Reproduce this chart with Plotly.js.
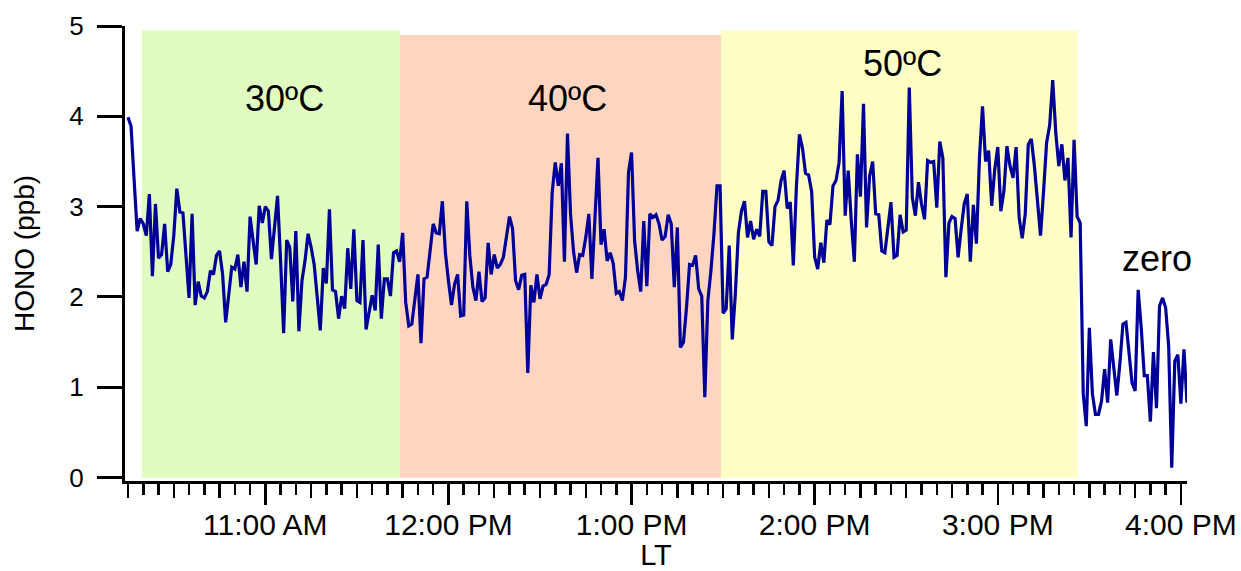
<!DOCTYPE html>
<html>
<head>
<meta charset="utf-8">
<script src="https://cdn.plot.ly/plotly-3.0.1.min.js"></script>
<style>html,body{margin:0;padding:0;background:#fff;}#chart{width:1241px;height:571px;}</style>
</head>
<body>
<div id="chart"></div>
<script>
// ---- DATA (HONO, ppb), one reading per minute starting at 10:15 LT ----
var day = '2024-06-01';
var startTime = '10:15:00';
var sampleMinutes = 1;

// 30 °C stage (10:15 - 11:44)
var hono30 = [3.99,3.89,3.30,2.73,2.87,2.81,2.68,3.14,2.23,3.03,
  2.43,2.47,2.81,2.28,2.36,2.68,3.20,2.94,2.93,2.46,
  1.99,2.92,1.91,2.17,2.01,1.99,2.06,2.29,2.25,2.46,
  2.51,2.25,1.72,2.02,2.33,2.31,2.47,2.11,2.39,2.06,
  2.89,2.62,2.36,3.01,2.82,3.00,2.95,2.42,2.75,3.12,
  2.40,1.60,2.63,2.55,1.95,2.73,1.62,2.18,2.40,2.70,
  2.55,2.36,2.00,1.63,2.32,2.15,2.97,2.08,2.06,1.76,
  2.01,1.87,2.54,2.09,2.75,1.96,1.94,2.63,1.64,1.83,
  2.02,1.85,2.58,1.76,2.20,2.20,2.01,2.49,2.51,2.39];
// 40 °C stage (11:45 - 13:29)
var hono40 = [2.71,1.94,1.68,1.70,1.95,2.25,1.49,2.20,2.22,2.50,
  2.81,2.71,2.70,3.06,2.49,2.18,1.91,2.14,2.25,1.79,
  1.80,3.06,2.46,2.11,1.96,2.28,1.95,1.99,2.60,2.25,
  2.47,2.32,2.36,2.44,2.68,2.89,2.76,2.18,2.08,2.24,
  2.25,1.16,2.13,1.94,2.25,1.98,2.12,2.14,2.25,3.16,
  3.49,3.23,3.48,2.39,3.81,2.92,2.50,2.27,2.47,2.46,
  2.66,2.92,2.20,2.85,3.54,2.58,2.75,2.40,2.49,2.37,
  2.04,2.06,1.96,2.22,3.38,3.60,2.62,2.29,2.06,2.84,
  2.12,2.92,2.88,2.91,2.81,2.63,2.67,2.91,2.81,2.11,
  2.77,1.44,1.50,1.88,2.36,2.35,2.46,2.09,2.01,0.89,
  1.96,2.29,2.70,3.23,3.23];
// 50 °C stage (13:30 - 15:27)
var hono50 = [1.82,1.87,2.57,1.53,2.03,2.71,2.95,3.06,2.66,2.84,
  2.64,2.75,2.67,3.17,3.17,2.61,2.57,3.00,3.07,3.29,
  3.40,2.98,3.05,2.35,3.21,3.80,3.65,3.37,3.35,3.17,
  2.44,2.31,2.60,2.38,2.85,2.80,3.23,3.29,3.49,4.28,
  2.90,3.40,2.84,2.39,3.58,3.11,4.14,2.77,3.34,3.50,
  2.92,2.91,2.51,2.49,2.77,3.05,2.44,2.46,2.91,2.72,
  2.74,4.32,3.10,2.90,3.27,3.03,2.86,3.51,3.49,3.50,
  2.99,3.72,3.54,2.22,2.82,2.89,2.87,2.44,2.75,3.03,
  3.14,2.39,3.02,2.59,3.54,4.11,3.50,3.62,3.01,3.41,
  3.66,2.95,3.17,3.67,3.45,3.32,3.66,2.88,2.65,2.92,
  3.69,3.75,3.45,3.05,2.68,3.17,3.71,3.90,4.40,3.82,
  3.45,3.69,3.29,3.54,2.66,3.74,2.89,2.82];
// zero air (15:28 - 16:02)
var honoZero = [0.93,0.57,1.66,0.93,0.70,0.70,0.85,1.20,0.83,1.53,
  1.18,0.91,1.26,1.70,1.72,1.40,1.05,0.96,2.08,1.66,
  1.13,1.13,0.62,1.39,0.77,1.90,1.99,1.88,1.45,0.11,
  1.29,1.36,0.82,1.42,0.83];

// shaded temperature stages
var stageLabels = ['30ºC', '40ºC', '50ºC'];
var stageStart  = ['10:19:30', '11:44:06', '13:29:18'];
var stageEnd    = ['11:44:06', '13:29:18', '15:26:11'];
var stageTop    = [4.95, 4.90, 4.95];
var stageColors = ['#E0FCC1', '#FED5C1', '#FFFEC4'];
var stageLabelTime = ['11:06:07', '12:39:10', '14:28:56'];
var stageLabelY    = [4.195, 4.195, 4.59];
var zeroLabel = 'zero';
var zeroLabelTime = '15:52:10';
var zeroLabelY = 2.43;

var axisRange = ['10:14:01', '16:02:00'];

// ---- build ----
function toSec(hms){ var p = hms.split(':'); return (+p[0])*3600 + (+p[1])*60 + (+(p[2]||0)); }
function pad(n){ return (n<10?'0':'') + n; }
function stamp(sec){ var h=Math.floor(sec/3600), m=Math.floor((sec%3600)/60), s=Math.round(sec%60); return day+' '+pad(h)+':'+pad(m)+':'+pad(s); }
function at(hms){ return day + ' ' + hms; }

var values = hono30.concat(hono40, hono50, honoZero);
var t0 = toSec(startTime);
var times = values.map(function(v, i){ return stamp(t0 + i*sampleMinutes*60); });

var font = 'Liberation Sans, Arial, Helvetica, sans-serif';

var traces = [
  {x: times, y: values, type: 'scatter', mode: 'lines',
   line: {color: '#000099', width: 3.2}, hoverinfo: 'x+y', showlegend: false},
  {x: times, y: values, type: 'scatter', mode: 'lines', xaxis: 'x2',
   line: {color: 'rgba(0,0,0,0)', width: 0}, hoverinfo: 'skip', showlegend: false}
];

var shapes = stageStart.map(function(s, i){
  return {type: 'rect', xref: 'x', yref: 'y', layer: 'below',
          x0: at(s), x1: at(stageEnd[i]), y0: 0, y1: stageTop[i],
          fillcolor: stageColors[i], line: {width: 0}};
});

var annotations = stageLabels.map(function(t, i){
  return {text: t, x: at(stageLabelTime[i]), y: stageLabelY[i], xref: 'x', yref: 'y',
          showarrow: false, xanchor: 'center', yanchor: 'middle',
          font: {family: font, size: 36, color: '#000'}};
});
annotations.push({text: zeroLabel, x: at(zeroLabelTime), y: zeroLabelY, xref: 'x', yref: 'y',
  showarrow: false, xanchor: 'center', yanchor: 'middle',
  font: {family: font, size: 36, color: '#000'}});

var range = [at(axisRange[0]), at(axisRange[1])];

var layout = {
  width: 1241, height: 571,
  margin: {l: 125, r: 54, t: 26, b: 90},
  paper_bgcolor: '#fff', plot_bgcolor: '#fff',
  showlegend: false,
  shapes: shapes,
  annotations: annotations,
  xaxis: {
    type: 'date', range: range, autorange: false,
    tick0: at('11:00:00'), dtick: 3600000, tickformat: '%-I:%M %p',
    ticks: 'outside', ticklen: 21, tickwidth: 2.5, tickcolor: '#000',
    minor: {tick0: at('10:15:00'), dtick: 300000, ticks: 'outside', ticklen: 11, tickwidth: 2.5, tickcolor: '#000', showgrid: false},
    showline: true, linewidth: 3, linecolor: '#000',
    showgrid: false, zeroline: false,
    tickfont: {family: font, size: 30, color: '#000'},
    ticklabelstandoff: -6,
    title: {text: 'LT', font: {family: font, size: 29, color: '#000'}, standoff: 2}
  },
  xaxis2: {
    type: 'date', range: range, autorange: false, overlaying: 'x', anchor: 'y', side: 'bottom',
    tick0: at('10:15:00'), dtick: 900000,
    ticks: 'outside', ticklen: 16, tickwidth: 2.5, tickcolor: '#000',
    showticklabels: false, showline: false, showgrid: false, zeroline: false
  },
  yaxis: {
    range: [-0.037, 5], autorange: false,
    tick0: 0, dtick: 1,
    ticks: 'outside', ticklen: 25, tickwidth: 3, tickcolor: '#000',
    showline: true, linewidth: 3, linecolor: '#000',
    showgrid: false, zeroline: false,
    tickfont: {family: font, size: 26, color: '#000'},
    ticklabelstandoff: 8,
    title: {text: 'HONO (ppb)', font: {family: font, size: 28, color: '#000'}, standoff: 27}
  }
};

Plotly.newPlot('chart', traces, layout, {displayModeBar: false, staticPlot: true});
</script>
</body>
</html>
